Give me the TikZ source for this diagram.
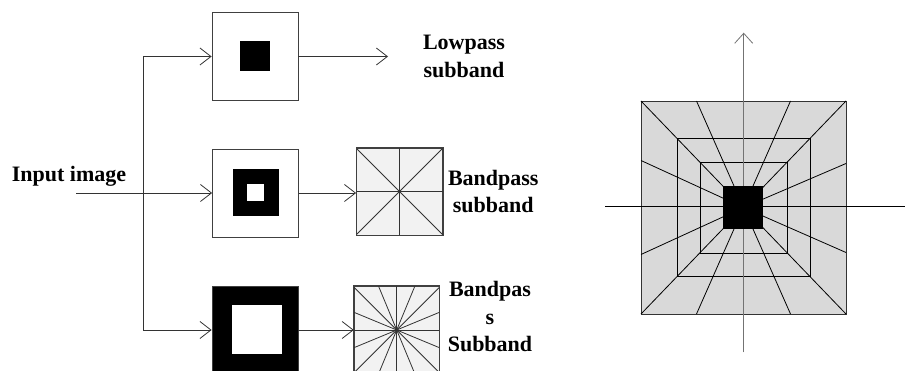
\documentclass[tikz,border=0pt]{standalone}
\usepackage{fontspec}
\setmainfont{Liberation Serif}
\usetikzlibrary{arrows.meta}

\begin{document}
\begin{tikzpicture}[x=1pt,y=-1pt,line width=0.8pt,
  arr/.style={draw=black!80,-{Straight Barb[length=11pt,width=17pt,line width=0.8pt]}},
  lbl/.style={font=\bfseries\fontsize{22}{27.5}\selectfont,align=center,inner sep=0pt},
  mainbox/.style={draw=black!75,fill=white,minimum width=86pt,minimum height=88pt,inner sep=0pt},
  fbox/.style={draw=black!75,fill=black!5,minimum width=86pt,minimum height=87pt,inner sep=0pt},
  core/.style={fill,inner sep=0pt}]
  \useasboundingbox (0,0) rectangle (905,371);

  % Input
  \node[lbl,anchor=base] (inlbl) at (69,181.7) {Input image};
  \coordinate (instart) at (76,193);
  \coordinate (splittop) at (143.3,56.5);
  \coordinate (splitbot) at (143.3,330);

  % Lowpass filter
  \node[mainbox] (low) at (255,56.5) {};
  \node[core,minimum size=30pt] (lowcore) at (low) {};

  % Bandpass filter
  \node[mainbox] (mid) at (255.5,193) {};
  \node[core,minimum width=46pt,minimum height=47pt] (midring) at (mid) {};
  \node[core,fill=white,minimum size=17pt] (midhole) at (mid) {};

  % Highpass filter
  \node[mainbox,fill=black] (high) at (255,330) {};
  \node[core,fill=white,minimum width=50pt,minimum height=49pt] (highhole) at (256.7,329.5) {};

  % Directional boxes
  \node[fbox] (dirA) at (399.5,191.5) {};
  \begin{scope}
    \clip (dirA.south west) rectangle (dirA.north east);
    \foreach \a in {0,45,...,315}
      \draw[black!80] (dirA.center) -- ++(\a:80);
  \end{scope}
  \draw[black!75] (dirA.south west) rectangle (dirA.north east);

  \node[fbox,minimum width=85pt,minimum height=88pt] (dirB) at (396.7,330) {};
  \begin{scope}
    \clip (dirB.south west) rectangle (dirB.north east);
    \foreach \a in {0,22.5,...,337.5}
      \draw[black!80] (dirB.center) -- ++(\a:80);
  \end{scope}
  \draw[black!75] (dirB.south west) rectangle (dirB.north east);

  % Labels
  \node[lbl] (lowtxt) at (464,56.5) {Lowpass\\subband};
  \node[lbl] (dirAtxt) at (493.3,191.7) {Bandpass\\subband};
  \node[lbl] (dirBtxt) at (490,317) {Bandpas\\s\\Subband};
  \coordinate (lowend) at (388,56.5);

  % Connections
  \draw[arr] (instart) -- (mid.west);
  \draw[black!80] (splittop) -- (splitbot);
  \draw[arr] (splittop) -- (low.west);
  \draw[arr] (splitbot) -- (high.west);
  \draw[arr] (low.east) -- (lowend);
  \draw[arr] (mid.east) -- (mid.east -| dirA.west);
  \draw[arr] (high.east) -- (dirB.west);

  % Frequency plane
  \begin{scope}[shift={(743.5,207.5)}]
    \filldraw[fill=black!15,draw=black!80] (-102.5,-106.5) rectangle (102.5,106.5);
    \foreach \px/\py in {-102.5/-106.5,102.5/-106.5,102.5/106.5,-102.5/106.5,
        -47/-106.5,47/-106.5,-47/106.5,47/106.5,
        -102.5/-47,-102.5/47,102.5/-44,102.5/45}
      \draw (0,0) -- (\px,\py);
    \draw (-66.2,-69.2) rectangle (66.5,69.2);
    \draw (-43.5,-44.8) rectangle (43.8,45.8);
    % axes
    \draw (-138.5,-1.5) -- (161.5,-1.5);
    \draw[black!55,-{Straight Barb[length=10pt,width=18pt,line width=0.8pt]}] (0.2,144.8) -- (0.2,-174.8);
    \fill (-20.8,-21.8) rectangle (19.8,21.5);
  \end{scope}
\end{tikzpicture}
\end{document}
